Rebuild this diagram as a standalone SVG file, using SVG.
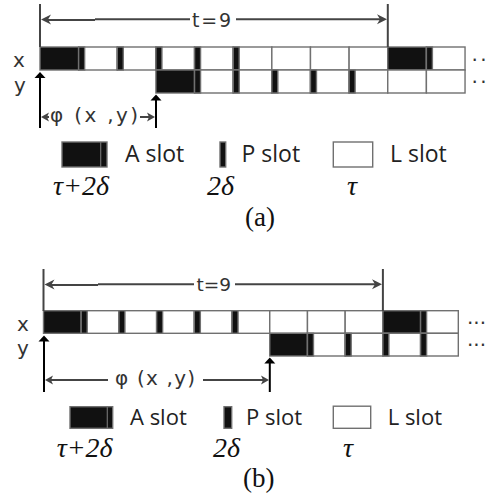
<svg xmlns="http://www.w3.org/2000/svg" width="488" height="495" viewBox="0 0 488 495">
<style>
.cell{fill:#fff;stroke:#707070;stroke-width:1.4}
.blk{fill:#111;stroke:#707070;stroke-width:1.4}
.dim{stroke:#444;stroke-width:2;fill:none}
.head{fill:#444}
.up{stroke:#000;stroke-width:2;fill:none}
.uph{fill:#000}
.lbl{font-family:"DejaVu Sans",sans-serif;fill:#333}
.leg{font-family:"Open Sans",sans-serif;fill:#222}
.math{font-family:"Liberation Serif",serif;font-style:italic;font-size:28px;fill:#111}
.cap{font-family:"Liberation Serif",serif;font-size:27px;fill:#111}
.dots{font-family:"DejaVu Sans",sans-serif;font-size:20px;fill:#333;letter-spacing:2.5px}
</style>

<!-- ================= PANEL (a) ================= -->
<g id="panel-a-grid">
  <g id="a-row-x">
    <rect class="blk" x="40" y="47" width="38.64" height="23"/>
    <rect class="cell" x="78.64" y="47" width="38.64" height="23"/>
    <rect class="cell" x="117.28" y="47" width="38.64" height="23"/>
    <rect class="cell" x="155.92" y="47" width="38.64" height="23"/>
    <rect class="cell" x="194.56" y="47" width="38.64" height="23"/>
    <rect class="cell" x="233.2" y="47" width="38.64" height="23"/>
    <rect class="cell" x="271.84" y="47" width="38.64" height="23"/>
    <rect class="cell" x="310.48" y="47" width="38.64" height="23"/>
    <rect class="cell" x="349.12" y="47" width="38.64" height="23"/>
    <rect class="blk" x="387.76" y="47" width="38.64" height="23"/>
    <rect class="cell" x="426.4" y="47" width="38.64" height="23"/>
    <rect class="blk" x="78.64" y="47" width="6" height="23"/>
    <rect class="blk" x="117.28" y="47" width="6" height="23"/>
    <rect class="blk" x="155.92" y="47" width="6" height="23"/>
    <rect class="blk" x="194.56" y="47" width="6" height="23"/>
    <rect class="blk" x="233.2" y="47" width="6" height="23"/>
    <rect class="blk" x="426.4" y="47" width="6" height="23"/>
  </g>
  <g id="a-row-y">
    <rect class="blk" x="155.92" y="70" width="38.64" height="23"/>
    <rect class="cell" x="194.56" y="70" width="38.64" height="23"/>
    <rect class="cell" x="233.2" y="70" width="38.64" height="23"/>
    <rect class="cell" x="271.84" y="70" width="38.64" height="23"/>
    <rect class="cell" x="310.48" y="70" width="38.64" height="23"/>
    <rect class="cell" x="349.12" y="70" width="38.64" height="23"/>
    <rect class="cell" x="387.76" y="70" width="38.64" height="23"/>
    <rect class="cell" x="426.4" y="70" width="38.64" height="23"/>
    <rect class="blk" x="194.56" y="70" width="6" height="23"/>
    <rect class="blk" x="233.2" y="70" width="6" height="23"/>
    <rect class="blk" x="271.84" y="70" width="6" height="23"/>
    <rect class="blk" x="310.48" y="70" width="6" height="23"/>
    <rect class="blk" x="349.12" y="70" width="6" height="23"/>
  </g>
  <text class="lbl" x="13" y="67" font-size="20">x</text>
  <text class="lbl" x="14" y="92" font-size="20">y</text>
  <text class="dots" x="471.5" y="67">··</text>
  <text class="dots" x="471.5" y="89">··</text>
</g>

<g id="a-connectors">
  <line class="dim" x1="40" y1="4" x2="40" y2="47"/>
  <line class="dim" x1="387.8" y1="4" x2="387.8" y2="47"/>
  <line class="dim" x1="44" y1="20" x2="95" y2="20"/>
  <line class="dim" x1="95" y1="19.2" x2="190" y2="19.2"/>
  <line class="dim" x1="236" y1="19.2" x2="380" y2="19.2"/>
  <path class="head" d="M41,19.6 L51,14.6 L48,19.6 L51,24.6 Z"/>
  <path class="head" d="M387,19.2 L377,14.2 L380,19.2 L377,24.2 Z"/>
  <text class="lbl" x="192" y="27" font-size="19" textLength="39">t=9</text>

  <line class="up" x1="40" y1="128" x2="40" y2="76"/>
  <path class="uph" d="M40,72 L34.5,78 L45.5,78 Z"/>
  <line class="up" x1="156" y1="128" x2="156" y2="99"/>
  <path class="uph" d="M156,94.5 L150.5,100.5 L161.5,100.5 Z"/>

  <line class="dim" x1="44" y1="117" x2="49" y2="117"/>
  <path class="head" d="M41,117 L49,112.5 L47,117 L49,121.5 Z"/>
  <line class="dim" x1="140" y1="117" x2="150" y2="117"/>
  <path class="head" d="M155,117 L147,112.5 L149,117 L147,121.5 Z"/>
  <text class="lbl" x="50" y="122" font-size="20" textLength="88">φ  (x ,y)</text>
</g>

<g id="a-legend">
  <g id="a-leg-A">
    <rect class="blk" x="62" y="142" width="45" height="25"/>
    <line x1="100.7" y1="142" x2="100.7" y2="167" stroke="#707070" stroke-width="1.2"/>
    <text class="leg" x="125" y="162" font-size="23">A slot</text>
    <text class="math" x="53" y="195">τ+2δ</text>
  </g>
  <g id="a-leg-P">
    <rect class="blk" x="220" y="142" width="5.7" height="25"/>
    <text class="leg" x="241.5" y="162" font-size="23">P slot</text>
    <text class="math" x="207" y="195">2δ</text>
  </g>
  <g id="a-leg-L">
    <rect class="cell" x="333.3" y="142" width="39.4" height="25"/>
    <text class="leg" x="390" y="162" font-size="23">L slot</text>
    <text class="math" x="347" y="195">τ</text>
  </g>
  <text class="cap" x="245" y="226">(a)</text>
</g>

<!-- ================= PANEL (b) ================= -->
<g id="panel-b-grid">
  <g id="b-row-x">
    <rect class="blk" x="43.5" y="310.7" width="37.71" height="22.6"/>
    <rect class="cell" x="81.21" y="310.7" width="37.71" height="22.6"/>
    <rect class="cell" x="118.92" y="310.7" width="37.71" height="22.6"/>
    <rect class="cell" x="156.63" y="310.7" width="37.71" height="22.6"/>
    <rect class="cell" x="194.34" y="310.7" width="37.71" height="22.6"/>
    <rect class="cell" x="232.05" y="310.7" width="37.71" height="22.6"/>
    <rect class="cell" x="269.76" y="310.7" width="37.71" height="22.6"/>
    <rect class="cell" x="307.47" y="310.7" width="37.71" height="22.6"/>
    <rect class="cell" x="345.18" y="310.7" width="37.71" height="22.6"/>
    <rect class="blk" x="382.89" y="310.7" width="37.71" height="22.6"/>
    <rect class="cell" x="420.6" y="310.7" width="37.71" height="22.6"/>
    <rect class="blk" x="81.21" y="310.7" width="6" height="22.6"/>
    <rect class="blk" x="118.92" y="310.7" width="6" height="22.6"/>
    <rect class="blk" x="156.63" y="310.7" width="6" height="22.6"/>
    <rect class="blk" x="194.34" y="310.7" width="6" height="22.6"/>
    <rect class="blk" x="232.05" y="310.7" width="6" height="22.6"/>
    <rect class="blk" x="420.6" y="310.7" width="6" height="22.6"/>
  </g>
  <g id="b-row-y">
    <rect class="blk" x="269.76" y="333.3" width="37.71" height="22.7"/>
    <rect class="cell" x="307.47" y="333.3" width="37.71" height="22.7"/>
    <rect class="cell" x="345.18" y="333.3" width="37.71" height="22.7"/>
    <rect class="cell" x="382.89" y="333.3" width="37.71" height="22.7"/>
    <rect class="cell" x="420.6" y="333.3" width="37.71" height="22.7"/>
    <rect class="blk" x="307.47" y="333.3" width="6" height="22.7"/>
    <rect class="blk" x="345.18" y="333.3" width="6" height="22.7"/>
    <rect class="blk" x="382.89" y="333.3" width="6" height="22.7"/>
    <rect class="blk" x="420.6" y="333.3" width="6" height="22.7"/>
  </g>
  <text class="lbl" x="17" y="331" font-size="20">x</text>
  <text class="lbl" x="17" y="355" font-size="20">y</text>
  <text class="dots" x="467" y="330" style="letter-spacing:0">···</text>
  <text class="dots" x="467" y="352" style="letter-spacing:0">···</text>
</g>

<g id="b-connectors">
  <line class="dim" x1="43.5" y1="269" x2="43.5" y2="311"/>
  <line class="dim" x1="382.9" y1="269" x2="382.9" y2="311"/>
  <line class="dim" x1="48" y1="285" x2="98" y2="285"/>
  <line class="dim" x1="98" y1="284.3" x2="194" y2="284.3"/>
  <line class="dim" x1="235" y1="284.3" x2="375" y2="284.3"/>
  <path class="head" d="M44.5,284.6 L54.5,279.6 L51.5,284.6 L54.5,289.6 Z"/>
  <path class="head" d="M382,284.3 L372,279.3 L375,284.3 L372,289.3 Z"/>
  <text class="lbl" x="196.5" y="290.5" font-size="18.5">t=9</text>

  <line class="up" x1="44" y1="392" x2="44" y2="340"/>
  <path class="uph" d="M44,335.5 L38.5,341.5 L49.5,341.5 Z"/>
  <line class="up" x1="269.8" y1="392" x2="269.8" y2="362"/>
  <path class="uph" d="M269.8,357.5 L264.3,363.5 L275.3,363.5 Z"/>

  <line class="dim" x1="48" y1="380" x2="108" y2="380"/>
  <path class="head" d="M45,380 L53,375.5 L51,380 L53,384.5 Z"/>
  <line class="dim" x1="203" y1="380" x2="263" y2="380"/>
  <path class="head" d="M269,380 L261,375.5 L263,380 L261,384.5 Z"/>
  <text class="lbl" x="115" y="385" font-size="20" textLength="80">φ  (x ,y)</text>
</g>

<g id="b-legend">
  <g id="b-leg-A">
    <rect class="blk" x="70" y="406.7" width="42.7" height="21.6"/>
    <line x1="107.3" y1="406.7" x2="107.3" y2="428.3" stroke="#707070" stroke-width="1.2"/>
    <text class="leg" x="130" y="425" font-size="22">A slot</text>
    <text class="math" x="56.7" y="457">τ+2δ</text>
  </g>
  <g id="b-leg-P">
    <rect class="blk" x="224" y="406.7" width="7.7" height="21.6"/>
    <text class="leg" x="246" y="425" font-size="22">P slot</text>
    <text class="math" x="213" y="457">2δ</text>
  </g>
  <g id="b-leg-L">
    <rect class="cell" x="333.3" y="406.2" width="37.4" height="22.1"/>
    <text class="leg" x="387.7" y="425" font-size="22">L slot</text>
    <text class="math" x="343" y="457">τ</text>
  </g>
  <text class="cap" x="243" y="487">(b)</text>
</g>
</svg>
